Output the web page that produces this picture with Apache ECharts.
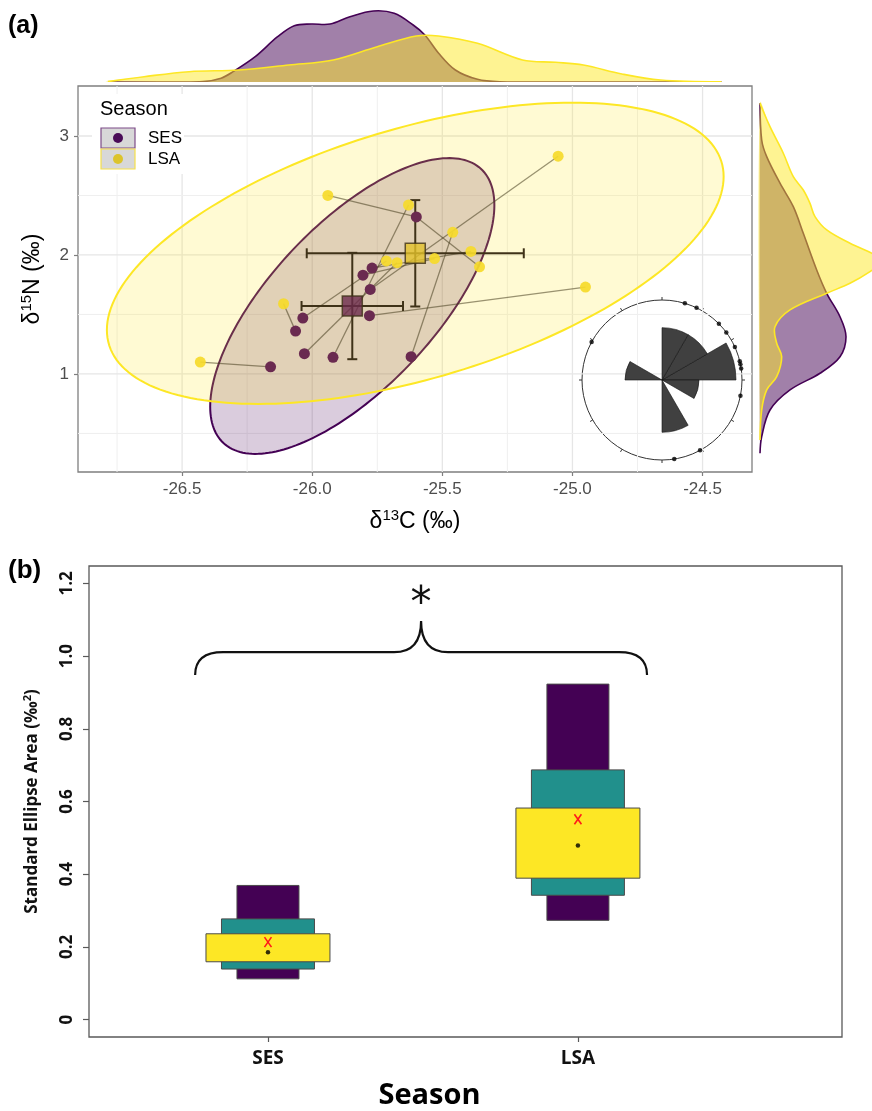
<!DOCTYPE html>
<html><head><meta charset="utf-8">
<script src="https://cdn.jsdelivr.net/npm/echarts@6/dist/echarts.min.js"></script>
<style>html,body{margin:0;padding:0;background:#fff}#c{width:872px;height:1111px}</style>
</head><body><div id="c"></div>
<script>
// ================= DATA =================
const seasons = ['SES', 'LSA'];
// (a) isotope values
const sesD13C = [-25.60, -25.77, -25.805, -25.777, -26.036, -25.78, -26.064, -26.03, -25.92, -25.62, -26.16];
const sesD15N = [2.32, 1.89, 1.83, 1.71, 1.47, 1.49, 1.36, 1.17, 1.14, 1.145, 1.06];
const lsaD13C = [-25.94, -25.63, -25.46, -25.39, -25.357, -25.53, -25.715, -25.674, -26.11, -26.43, -25.055, -24.95];
const lsaD15N = [2.50, 2.42, 2.19, 2.03, 1.90, 1.97, 1.95, 1.935, 1.59, 1.10, 2.83, 1.73];
// links between SES point index and LSA point index
const links = [[0,0],[0,4],[1,3],[2,5],[3,10],[4,6],[5,11],[6,8],[7,7],[8,1],[9,2],[10,9]];
// group means and error (half-lengths)
const meanD13C = [-25.846, -25.604];
const meanD15N = [1.571, 2.014];
const errD13C = [0.195, 0.417];
const errD15N = [0.447, 0.447];
// ellipse half-extents and correlation
const ellRx = [0.546, 1.185];
const ellRy = [1.243, 1.266];
const ellRho = [0.681, 0.509];
// tick labels
const xBreaks = [-26.5, -26.0, -25.5, -25.0, -24.5];
const xMinor = [-26.75, -26.25, -25.75, -25.25, -24.75];
const yBreaks = [1, 2, 3];
const yMinor = [0.5, 1.5, 2.5];
// marginal densities (top: along d13C ; right: along d15N)
const topSesX = [-26.785, -26.55, -26.42, -26.35, -26.304, -26.219, -26.133, -26.069, -26.004, -25.931, -25.855, -25.765, -25.685, -25.612, -25.567, -25.515, -25.45, -25.365, -25.28, -25.0, -24.427];
const topSesD = [0, 0, 0.005, 0.05, 0.134, 0.329, 0.588, 0.731, 0.753, 0.753, 0.848, 0.922, 0.892, 0.740, 0.610, 0.377, 0.156, 0.035, 0.004, 0, 0];
const topLsaX = [-26.785, -26.646, -26.473, -26.281, -26.09, -25.919, -25.75, -25.6, -25.515, -25.365, -25.192, -25.065, -24.958, -24.81, -24.662, -24.427];
const topLsaD = [0.005, 0.069, 0.134, 0.156, 0.221, 0.286, 0.458, 0.597, 0.597, 0.502, 0.286, 0.256, 0.221, 0.104, 0.026, 0.003];
const rightSesY = [3.275, 2.966, 2.826, 2.603, 2.406, 2.182, 1.874, 1.678, 1.481, 1.313, 1.145, 1.006, 0.866, 0.697, 0.473, 0.334];
const rightSesD = [0, 0.017, 0.067, 0.20, 0.333, 0.433, 0.567, 0.667, 0.80, 0.86, 0.80, 0.60, 0.30, 0.10, 0.017, 0];
const rightLsaY = [3.275, 3.078, 2.855, 2.658, 2.546, 2.434, 2.322, 2.21, 2.098, 2.014, 1.958, 1.86, 1.762, 1.678, 1.538, 1.397, 1.258, 1.145, 0.977, 0.866, 0.697, 0.445];
const rightLsaD = [0, 0.10, 0.233, 0.333, 0.433, 0.50, 0.55, 0.667, 0.90, 1.12, 1.25, 1.10, 0.90, 0.667, 0.30, 0.15, 0.167, 0.217, 0.167, 0.067, 0.017, 0];
// rose diagram: shift directions (degrees, counter-clockwise from east)
const roseAngles = [73.4, 64.4, 44.7, 36.5, 24.4, 13.6, 11.4, 8.3, 348.7, 151.6, 298.4, 278.8];
// (b) standard ellipse area credible intervals
const sea95 = [[0.112, 0.369], [0.273, 0.923]];
const sea75 = [[0.139, 0.277], [0.342, 0.687]];
const sea50 = [[0.159, 0.236], [0.389, 0.582]];
const seaMode = [0.185, 0.479];
const seaSample = [0.213, 0.551];
const seaTicks = [0, 0.2, 0.4, 0.6, 0.8, 1.0, 1.2];

// ================= CHART =================
const FONT = "'Liberation Sans', Arial, sans-serif";
const FONTB = "'Open Sans', sans-serif";
const PURPLE = '#440154', YELLOW = '#FDE725', TEAL = '#21908C';
const chart = echarts.init(document.getElementById('c'), null, {width: 872, height: 1111, renderer: 'canvas'});

function gridRender(params, api) {
  const cs = params.coordSys;
  const orient = api.value(0), v = api.value(1), major = api.value(2);
  let shape;
  if (orient === 0) { const p = api.coord([v, 1]); shape = {x1: p[0], y1: cs.y, x2: p[0], y2: cs.y + cs.height}; }
  else { const p = api.coord([-25, v]); shape = {x1: cs.x, y1: p[1], x2: cs.x + cs.width, y2: p[1]}; }
  return {type: 'line', shape, style: {stroke: major ? '#E6E6E6' : '#EFEFEF', lineWidth: major ? 1.3 : 1}};
}
function ellipseRender(g, fill, stroke) {
  return function (params, api) {
    const phi = Math.acos(ellRho[g]);
    const pts = [];
    for (let i = 0; i < 200; i++) {
      const t = i / 200 * 2 * Math.PI;
      pts.push(api.coord([meanD13C[g] + ellRx[g] * Math.cos(t), meanD15N[g] + ellRy[g] * Math.cos(t - phi)]));
    }
    return {type: 'polygon', shape: {points: pts}, style: {fill, stroke, lineWidth: 2}};
  };
}
function densityRender(xs, ds, fill, stroke, vertical) {
  return function (params, api) {
    const pts = xs.map((x, i) => vertical ? api.coord([ds[i], x]) : api.coord([x, ds[i]]));
    return {type: 'group', children: [
      {type: 'polygon', shape: {points: pts, smooth: 0.35}, style: {fill, stroke: 'none'}},
      {type: 'polyline', shape: {points: pts, smooth: 0.35}, style: {fill: 'none', stroke, lineWidth: 1.6}}
    ]};
  };
}

const gridData = [].concat(
  xBreaks.map(v => [0, v, 1]), xMinor.map(v => [0, v, 0]),
  yBreaks.map(v => [1, v, 1]), yMinor.map(v => [1, v, 0]));

const roseCounts = new Array(12).fill(0);
roseAngles.forEach(a => { roseCounts[Math.floor((((a % 360) + 360) % 360) / 30)]++; });

const linkData = links.map(([s, l]) => [sesD13C[s], sesD15N[s], lsaD13C[l], lsaD15N[l]]);
const errData = meanD13C.map((m, i) => [m, meanD15N[i], errD13C[i], errD15N[i]]);

const boxData = [];
[[sea95, 0.1, PURPLE], [sea75, 0.15, TEAL], [sea50, 0.2, YELLOW]].forEach(([arr, half, col]) => {
  arr.forEach((iv, g) => boxData.push({value: [g + 1, iv[0], iv[1], half], itemStyle: {color: col}}));
});

const supRich = {
  a: {fontSize: 23, fontFamily: FONT, color: '#000', lineHeight: 28},
  s: {fontSize: 15, fontFamily: FONT, color: '#000', verticalAlign: 'top', lineHeight: 15}
};

const option = {
  animation: false,
  backgroundColor: '#ffffff',
  grid: [
    {left: 78, top: 86, width: 674, height: 386, show: true, borderColor: '#7F7F7F', borderWidth: 1.3, backgroundColor: 'transparent'},
    {left: 78, top: 5, width: 674, height: 77},
    {left: 760, top: 86, width: 112, height: 386},
    {left: 89, top: 566, width: 753, height: 475, show: true, borderColor: '#595959', borderWidth: 1.3, backgroundColor: 'transparent'}
  ],
  xAxis: [
    {gridIndex: 0, type: 'value', min: -26.9, max: -24.31,
     axisLine: {show: false, onZero: false}, splitLine: {show: false},
     axisTick: {customValues: xBreaks, length: 4, lineStyle: {color: '#7F7F7F', width: 1.2}},
     axisLabel: {customValues: xBreaks, formatter: v => v.toFixed(1), color: '#4D4D4D', fontSize: 17, fontFamily: FONT, margin: 9},
     name: '{a|δ}{s|13}{a|C (‰)}', nameLocation: 'middle', nameGap: 36,
     nameTextStyle: {color: '#000', fontFamily: FONT, fontSize: 23, rich: supRich}},
    {gridIndex: 1, type: 'value', min: -26.9, max: -24.31, show: false},
    {gridIndex: 2, type: 'value', min: 0, max: 1.12, show: false},
    {gridIndex: 3, type: 'value', min: 0.4226, max: 2.852,
     axisLine: {show: false, onZero: false}, splitLine: {show: false},
     axisTick: {customValues: [1, 2], length: 5, lineStyle: {color: '#595959', width: 1.2}},
     axisLabel: {customValues: [1, 2], formatter: v => seasons[Math.round(v) - 1], color: '#111', fontSize: 19, fontWeight: 'bold', fontFamily: FONTB, margin: 12},
     name: 'Season', nameLocation: 'middle', nameGap: 44,
     nameTextStyle: {color: '#000', fontSize: 29, fontWeight: 'bold', fontFamily: FONTB, padding: [0, 72, 0, 0]}}
  ],
  yAxis: [
    {gridIndex: 0, type: 'value', min: 0.176, max: 3.42,
     axisLine: {show: false, onZero: false}, splitLine: {show: false},
     axisTick: {customValues: yBreaks, length: 4, lineStyle: {color: '#7F7F7F', width: 1.2}},
     axisLabel: {customValues: yBreaks, formatter: v => String(v), color: '#4D4D4D', fontSize: 17, fontFamily: FONT, margin: 9},
     name: '{a|δ}{s|15}{a|N (‰)}', nameLocation: 'middle', nameGap: 31, nameRotate: 90,
     nameTextStyle: {color: '#000', fontFamily: FONT, fontSize: 23, rich: supRich}},
    {gridIndex: 1, type: 'value', min: 0, max: 1, show: false},
    {gridIndex: 2, type: 'value', min: 0.176, max: 3.42, show: false},
    {gridIndex: 3, type: 'value', min: -0.048, max: 1.248,
     axisLine: {show: false, onZero: false}, splitLine: {show: false},
     axisTick: {customValues: seaTicks, length: 6, lineStyle: {color: '#595959', width: 1.2}},
     axisLabel: {customValues: seaTicks, rotate: 90, formatter: v => v === 0 ? '0' : v.toFixed(1), color: '#111', fontSize: 17, fontWeight: 'bold', fontFamily: FONTB, margin: 13},
     name: '{b|Standard Ellipse Area (‰}{s|2}{b|)}', nameLocation: 'middle', nameGap: 46, nameRotate: 90,
     nameTextStyle: {color: '#111', fontFamily: FONTB, fontSize: 17, fontWeight: 'bold', rich: {
       b: {fontSize: 17, fontFamily: FONTB, fontWeight: 'bold', color: '#111', lineHeight: 21},
       s: {fontSize: 11, fontFamily: FONTB, fontWeight: 'bold', color: '#111', verticalAlign: 'top', lineHeight: 11}}}}
  ],
  polar: [{center: [662, 380], radius: 80}, {center: [662, 380], radius: 80}],
  angleAxis: [
    {polarIndex: 0, type: 'category', data: roseCounts.map((c, i) => String(i * 30)), startAngle: 0, clockwise: false, boundaryGap: true,
     axisLine: {lineStyle: {color: '#333', width: 1}}, axisTick: {length: 3, lineStyle: {color: '#333'}},
     axisLabel: {show: false}, splitLine: {show: false}, splitArea: {show: false}},
    {polarIndex: 1, type: 'value', min: 0, max: 360, startAngle: 0, clockwise: false, show: false, splitLine: {show: false}}
  ],
  radiusAxis: [
    {polarIndex: 0, type: 'value', min: 0, max: 2.162, show: false, splitLine: {show: false}},
    {polarIndex: 1, type: 'value', min: 0, max: 1, show: false, splitLine: {show: false}}
  ],
  series: [
    {type: 'custom', name: 'grid', xAxisIndex: 0, yAxisIndex: 0, data: gridData, renderItem: gridRender, silent: true},
    {type: 'custom', name: 'ellSES', xAxisIndex: 0, yAxisIndex: 0, clip: true, data: [[meanD13C[0], meanD15N[0]]],
     renderItem: ellipseRender(0, 'rgba(68,1,84,0.2)', PURPLE)},
    {type: 'custom', name: 'ellLSA', xAxisIndex: 0, yAxisIndex: 0, clip: true, data: [[meanD13C[1], meanD15N[1]]],
     renderItem: ellipseRender(1, 'rgba(253,231,37,0.2)', YELLOW)},
    {type: 'custom', name: 'links', xAxisIndex: 0, yAxisIndex: 0, data: linkData,
     renderItem: (p, api) => {
       const a = api.coord([api.value(0), api.value(1)]), b = api.coord([api.value(2), api.value(3)]);
       return {type: 'line', shape: {x1: a[0], y1: a[1], x2: b[0], y2: b[1]}, style: {stroke: 'rgba(70,60,30,0.55)', lineWidth: 1.3}};
     }},
    {type: 'custom', name: 'errbars', xAxisIndex: 0, yAxisIndex: 0, data: errData, z: 4,
     renderItem: (p, api) => {
       const m = [api.value(0), api.value(1)], ex = api.value(2), ey = api.value(3);
       const l = api.coord([m[0] - ex, m[1]]), r = api.coord([m[0] + ex, m[1]]);
       const t = api.coord([m[0], m[1] + ey]), b = api.coord([m[0], m[1] - ey]);
       const st = {stroke: '#3F3218', lineWidth: 2};
       const c = 5;
       return {type: 'group', children: [
         {type: 'line', shape: {x1: l[0], y1: l[1], x2: r[0], y2: r[1]}, style: st},
         {type: 'line', shape: {x1: l[0], y1: l[1] - c, x2: l[0], y2: l[1] + c}, style: st},
         {type: 'line', shape: {x1: r[0], y1: r[1] - c, x2: r[0], y2: r[1] + c}, style: st},
         {type: 'line', shape: {x1: t[0], y1: t[1], x2: b[0], y2: b[1]}, style: st},
         {type: 'line', shape: {x1: t[0] - c, y1: t[1], x2: t[0] + c, y2: t[1]}, style: st},
         {type: 'line', shape: {x1: b[0] - c, y1: b[1], x2: b[0] + c, y2: b[1]}, style: st}
       ]};
     }},
    {type: 'scatter', name: 'SES', xAxisIndex: 0, yAxisIndex: 0, z: 5, symbolSize: 11,
     data: sesD13C.map((x, i) => [x, sesD15N[i]]), itemStyle: {color: '#6A2A50', opacity: 1}},
    {type: 'scatter', name: 'LSA', xAxisIndex: 0, yAxisIndex: 0, z: 5, symbolSize: 11,
     data: lsaD13C.map((x, i) => [x, lsaD15N[i]]), itemStyle: {color: '#F6DA2A', opacity: 0.92}},
    {type: 'scatter', name: 'means', xAxisIndex: 0, yAxisIndex: 0, z: 6, symbol: 'rect', symbolSize: 20,
     data: [
       {value: [meanD13C[0], meanD15N[0]], itemStyle: {color: '#6B2A4C', borderColor: '#3F3218', borderWidth: 1.5}},
       {value: [meanD13C[1], meanD15N[1]], itemStyle: {color: '#E3C22A', borderColor: '#3F3218', borderWidth: 1.5}}]},
    // marginal densities
    {type: 'custom', xAxisIndex: 1, yAxisIndex: 1, clip: true, data: [[-25.8, 0.5]],
     renderItem: densityRender(topSesX, topSesD, 'rgba(68,1,84,0.5)', PURPLE, false)},
    {type: 'custom', xAxisIndex: 1, yAxisIndex: 1, clip: true, data: [[-25.5, 0.5]],
     renderItem: densityRender(topLsaX, topLsaD, 'rgba(253,231,37,0.5)', YELLOW, false)},
    {type: 'custom', xAxisIndex: 2, yAxisIndex: 2, clip: false, data: [[0.5, 1.5]],
     renderItem: densityRender(rightSesY, rightSesD, 'rgba(68,1,84,0.5)', PURPLE, true)},
    {type: 'custom', xAxisIndex: 2, yAxisIndex: 2, clip: false, data: [[0.5, 2]],
     renderItem: densityRender(rightLsaY, rightLsaD, 'rgba(253,231,37,0.5)', YELLOW, true)},
    // rose
    {type: 'bar', coordinateSystem: 'polar', polarIndex: 0, barCategoryGap: '0%', z: 5,
     data: roseCounts.map(c => Math.sqrt(c)),
     itemStyle: {color: '#404040', borderColor: '#111', borderWidth: 0.6}},
    {type: 'scatter', coordinateSystem: 'polar', polarIndex: 1, symbolSize: 4.5, z: 6,
     data: roseAngles.map(a => [1, a]), itemStyle: {color: '#000'}},
    // (b) SEA boxes
    {type: 'custom', xAxisIndex: 3, yAxisIndex: 3, data: boxData,
     renderItem: (p, api) => {
       const x = api.value(0), lo = api.value(1), hi = api.value(2), h = api.value(3);
       const a = api.coord([x - h, hi]), b = api.coord([x + h, lo]);
       return {type: 'rect', shape: {x: a[0], y: a[1], width: b[0] - a[0], height: b[1] - a[1]},
               style: {fill: api.visual('color'), stroke: '#4A4A4A', lineWidth: 1}};
     }},
    {type: 'scatter', xAxisIndex: 3, yAxisIndex: 3, symbolSize: 4.5, z: 6,
     data: seaMode.map((v, i) => [i + 1, v]), itemStyle: {color: '#000'}},
    {type: 'custom', xAxisIndex: 3, yAxisIndex: 3, z: 6, data: seaSample.map((v, i) => [i + 1, v]),
     renderItem: (p, api) => {
       const c = api.coord([api.value(0), api.value(1)]);
       const st = {stroke: '#FF1A1A', lineWidth: 1.6};
       return {type: 'group', children: [
         {type: 'line', shape: {x1: c[0] - 3.5, y1: c[1] - 5, x2: c[0] + 3.5, y2: c[1] + 5}, style: st},
         {type: 'line', shape: {x1: c[0] + 3.5, y1: c[1] - 5, x2: c[0] - 3.5, y2: c[1] + 5}, style: st}]};
     }},
    // significance brace
    {type: 'custom', xAxisIndex: 3, yAxisIndex: 3, data: [[0.765, 2.223, 0.948, 1.011, 1.097, 1.165]],
     renderItem: (p, api) => {
       const L = api.coord([api.value(0), api.value(2)]), R = api.coord([api.value(1), api.value(2)]);
       const barY = api.coord([1, api.value(3)])[1], tipY = api.coord([1, api.value(4)])[1];
       const starY = api.coord([1, api.value(5)])[1];
       const mid = (L[0] + R[0]) / 2, r = 28, rt = 27;
       const d = `M${L[0]},${L[1]} Q${L[0]},${barY} ${L[0] + r},${barY} L${mid - rt},${barY} Q${mid},${barY} ${mid},${tipY} ` +
                 `Q${mid},${barY} ${mid + rt},${barY} L${R[0] - r},${barY} Q${R[0]},${barY} ${R[0]},${R[1]}`;
       return {type: 'group', children: [
         {type: 'path', shape: {pathData: d}, style: {fill: 'none', stroke: '#111', lineWidth: 2.2}},
         {type: 'text', x: mid, y: starY + 9, style: {text: '*', fontSize: 42, fontFamily: "'DejaVu Sans', sans-serif", fill: '#111', align: 'center', verticalAlign: 'middle'}}
       ]};
     }}
  ],
  graphic: [
    {type: 'text', x: 8, y: 14, z: 100, style: {text: '(a)', fontSize: 25, fontWeight: 'bold', fontFamily: FONT, fill: '#000'}},
    {type: 'text', x: 8, y: 558, z: 100, style: {text: '(b)', fontSize: 26, fontWeight: 'bold', fontFamily: FONT, fill: '#000'}},
    {type: 'rect', z: 100, shape: {x: 92, y: 94, width: 92, height: 80}, style: {fill: '#fff'}},
    {type: 'text', x: 100, y: 99, z: 101, style: {text: 'Season', fontSize: 20, fontFamily: FONT, fill: '#000'}},
    {type: 'rect', z: 101, shape: {x: 101, y: 128, width: 34, height: 20}, style: {fill: '#D8D8D8', stroke: '#7D4B88', lineWidth: 1.2}},
    {type: 'circle', z: 102, shape: {cx: 118, cy: 138, r: 5}, style: {fill: '#4A0C57'}},
    {type: 'text', x: 148, y: 138, z: 101, style: {text: 'SES', fontSize: 17, fontFamily: FONT, fill: '#000', verticalAlign: 'middle'}},
    {type: 'rect', z: 101, shape: {x: 101, y: 149, width: 34, height: 20}, style: {fill: '#D8D8D8', stroke: '#F5E04A', lineWidth: 1.2}},
    {type: 'circle', z: 102, shape: {cx: 118, cy: 159, r: 5}, style: {fill: '#DCC42C'}},
    {type: 'text', x: 148, y: 159, z: 101, style: {text: 'LSA', fontSize: 17, fontFamily: FONT, fill: '#000', verticalAlign: 'middle'}}
  ]
};
chart.setOption(option);
</script></body></html>
